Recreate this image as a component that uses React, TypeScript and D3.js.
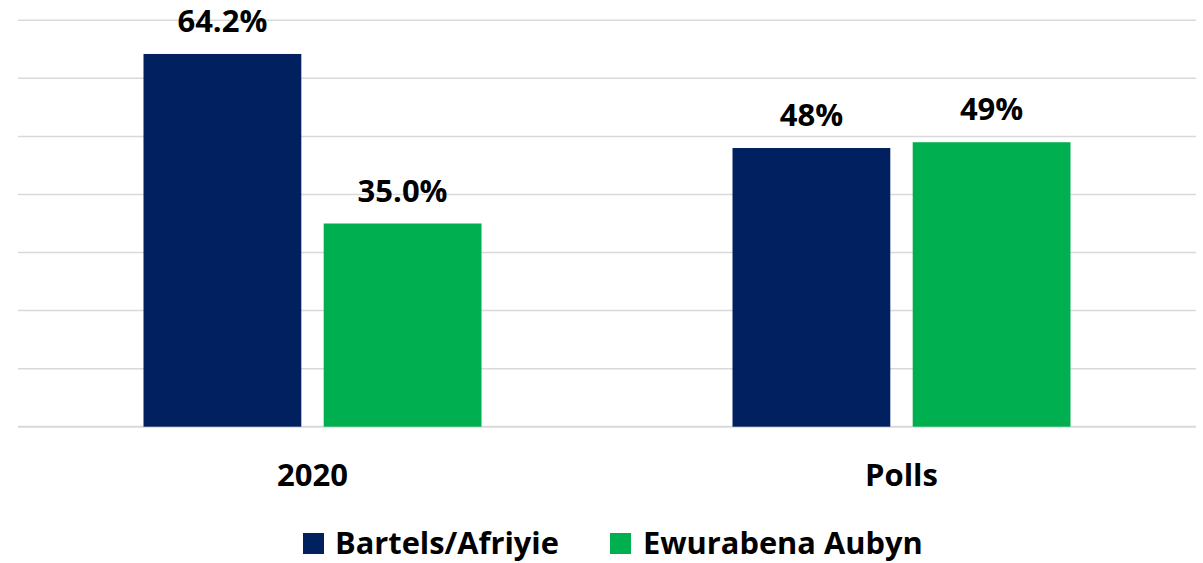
import React from "react";
import * as d3 from "d3";

const categories = ["2020", "Polls"];
const seriesNames = ["Bartels/Afriyie", "Ewurabena Aubyn"];
const bartelsValues = [64.2, 48];
const aubynValues = [35.0, 49];
const valueLabels = [["64.2%", "48%"], ["35.0%", "49%"]];
const yTicks = [0, 10, 20, 30, 40, 50, 60, 70];
const colors = ["#002060", "#00B050"];

const W = 1203;
const H = 563;
const plot = { left: 18, right: 1196, top: 20.3, bottom: 426.7 };
const FONT = "'Open Sans', 'DejaVu Sans', sans-serif";

export default function App() {
  const x0 = d3
    .scaleBand<string>()
    .domain(categories)
    .range([plot.left, plot.right])
    .paddingInner(0)
    .paddingOuter(0);
  const groupPad = 125.5;
  const x1 = d3
    .scaleBand<string>()
    .domain(seriesNames)
    .range([groupPad, x0.bandwidth() - groupPad])
    .paddingInner(21 / 169);
  const y = d3.scaleLinear().domain([0, 70]).range([plot.bottom, plot.top]);

  const series = [bartelsValues, aubynValues];

  const legendItems = [
    { name: seriesNames[0], sq: 303, tx: 335 },
    { name: seriesNames[1], sq: 610, tx: 643 },
  ];

  return (
    <svg
      width={W}
      height={H}
      style={{ position: "absolute", left: 0, top: 0, background: "#fff" }}
      fontFamily={FONT}
    >
      <rect x={0} y={0} width={W} height={H} fill="#fff" />
      {yTicks.map((t) => (
        <line
          key={t}
          x1={plot.left}
          x2={plot.right}
          y1={y(t)}
          y2={y(t)}
          stroke="#d9d9d9"
          strokeWidth={t === 0 ? 2 : 1.5}
        />
      ))}
      {categories.map((c, ci) => (
        <g key={c} transform={`translate(${x0(c)},0)`}>
          {series.map((vals, si) => {
            const bx = x1(seriesNames[si])!;
            const bw = x1.bandwidth();
            const v = vals[ci];
            return (
              <g key={si}>
                <rect
                  x={bx}
                  y={y(v)}
                  width={bw}
                  height={y(0) - y(v)}
                  fill={colors[si]}
                />
                <text
                  x={bx + bw / 2}
                  y={y(v) - 22}
                  textAnchor="middle"
                  fontSize={31}
                  fontWeight="bold"
                  fill="#000"
                >
                  {valueLabels[si][ci]}
                </text>
              </g>
            );
          })}
          <text
            x={x0.bandwidth() / 2}
            y={486}
            textAnchor="middle"
            fontSize={31}
            fontWeight="bold"
            fill="#000"
          >
            {c}
          </text>
        </g>
      ))}
      {legendItems.map((it, i) => (
        <g key={it.name}>
          <rect x={it.sq} y={533} width={21} height={21} fill={colors[i]} />
          <text x={it.tx} y={554} fontSize={30.8} fontWeight="bold" fill="#000">
            {it.name}
          </text>
        </g>
      ))}
    </svg>
  );
}
